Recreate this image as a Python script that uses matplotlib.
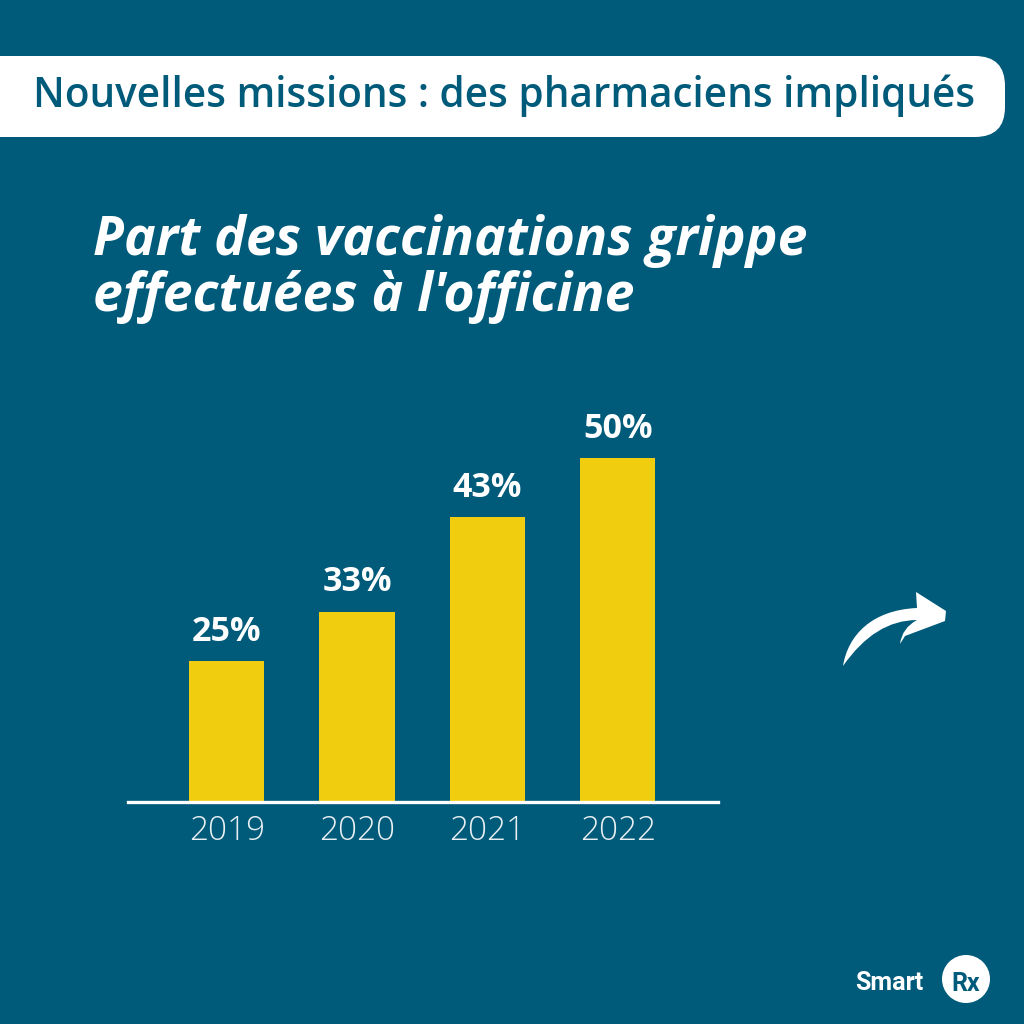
import matplotlib
matplotlib.use("Agg")
import matplotlib.pyplot as plt
from matplotlib.patches import FancyBboxPatch, Circle, PathPatch
from matplotlib.path import Path
import matplotlib.patheffects as pe

years = ["2019", "2020", "2021", "2022"]
value_labels = ["25%", "33%", "43%", "50%"]
# heights as drawn in the picture (bars are not proportional to their labels)
bar_heights = [25.0, 33.7, 50.5, 61.0]

BG = "#005a7a"
YEL = "#f0cd0e"
FONT = "Open Sans"

fig = plt.figure(figsize=(10.24, 10.24), dpi=100, facecolor=BG)

# overlay in pixel coordinates
ov = fig.add_axes([0, 0, 1, 1])
ov.set_xlim(0, 1024); ov.set_ylim(1024, 0); ov.axis("off")

ov.add_patch(FancyBboxPatch((-40, 56), 1045, 81, boxstyle="round,pad=0,rounding_size=30",
                            fc="white", ec="none"))
ov.text(504, 95.5, "Nouvelles missions : des pharmaciens impliqués", ha="center", va="center",
        fontsize=29.2, fontweight="semibold", color=BG, family=FONT)

shadow = [pe.withSimplePatchShadow(offset=(1, -2), shadow_rgbFace="#00354a", alpha=0.25)]
for txt, y in [("Part des vaccinations grippe", 241), ("effectuées à l'officine", 297)]:
    ov.text(93, y, txt, ha="left", va="center", fontsize=38.5, fontweight="bold",
            style="italic", color="white", family=FONT)

# arrow
v = [(843, 666), (850, 630), (880, 608), (921, 607), (916, 592), (946, 612), (944, 620),
     (901, 642), (908, 625), (890, 618), (858, 628), (843, 666)]
c = [Path.MOVETO, Path.CURVE3, Path.CURVE3, Path.LINETO, Path.LINETO, Path.LINETO, Path.LINETO,
     Path.LINETO, Path.LINETO, Path.CURVE3, Path.CURVE3, Path.LINETO]
v = [(843, 666), (848, 635), (872, 610), (917, 608), (916, 592), (946, 611), (945, 621),
     (905, 636), (900, 644), (902, 628), (917, 620), (875, 620), (843, 666)]
c = [Path.MOVETO, Path.CURVE3, Path.CURVE3, Path.CURVE3, Path.LINETO, Path.LINETO, Path.LINETO,
     Path.CURVE3, Path.LINETO, Path.CURVE3, Path.CURVE3, Path.CURVE3, Path.CURVE3]
c = [Path.MOVETO, Path.CURVE4, Path.CURVE4, Path.CURVE4, Path.LINETO, Path.LINETO, Path.LINETO,
     Path.LINETO, Path.LINETO, Path.CURVE3, Path.CURVE3, Path.CURVE3, Path.CURVE3]
ov.add_patch(PathPatch(Path(v, c), fc="white", ec="none"))

# logo
ov.text(855, 983, "Smart", ha="left", va="center", fontsize=18, fontweight="bold",
        color="white", family="Roboto")
ov.add_patch(Circle((966, 979), 24, fc="white", ec="none"))
ov.text(966, 984, "Rx", ha="center", va="center", fontsize=18, fontweight="bold",
        color=BG, family="Roboto")

# chart axes: x 128-718 px, baseline at y=802 px
ax = fig.add_axes([128 / 1024, 1 - 802 / 1024, 590 / 1024, 402 / 1024])
ax.patch.set_alpha(0)
xs = list(range(len(years)))
ax.set_xlim(-0.758, 3.77)
ax.set_ylim(0, 71.3)
bars = ax.bar(xs, bar_heights, width=0.578, color=YEL)
for x, h, lab in zip(xs, bar_heights, value_labels):
    ax.annotate(lab, (x, h), xytext=(0, 9), textcoords="offset points", ha="center",
                va="bottom", fontsize=24.5, fontweight="bold", color="white", family=FONT)
ax.set_xticks(xs, years)
ax.tick_params(axis="x", length=0, pad=9, labelsize=24, labelcolor="#e8eff2")
for t in ax.get_xticklabels():
    t.set_family("Open Sans"); t.set_fontweight("light")
ax.set_yticks([])
for s in ["left", "right", "top"]:
    ax.spines[s].set_visible(False)
ax.spines["bottom"].set_color("white")
ax.spines["bottom"].set_linewidth(2.4)

fig.savefig("out.png", dpi=100, facecolor=BG)
